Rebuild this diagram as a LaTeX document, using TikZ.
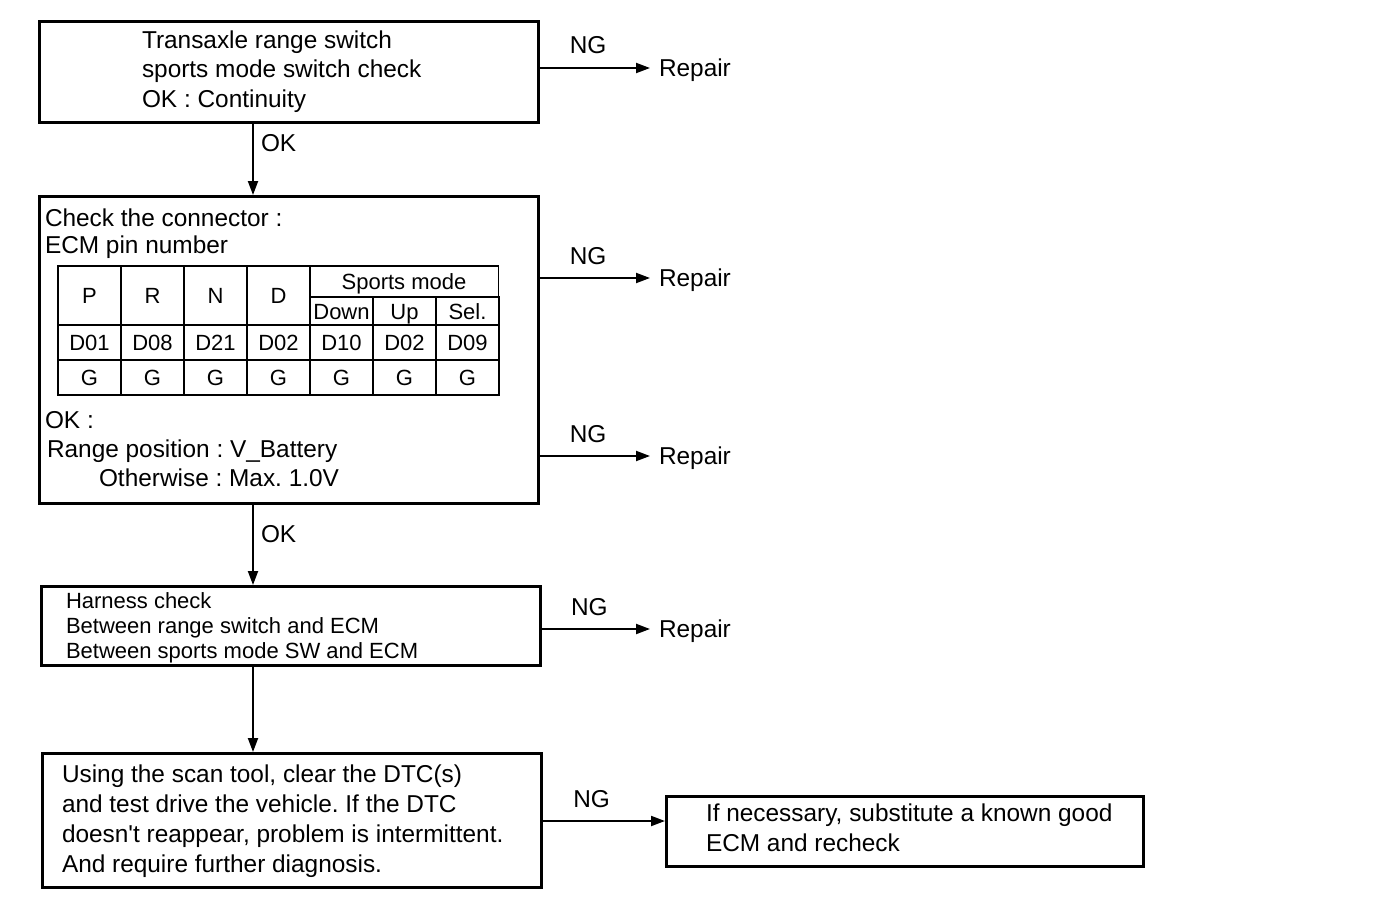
\documentclass[tikz,border=0pt]{standalone}
\usepackage{fontspec}
\setmainfont{Liberation Sans}
\newfontfamily\diagfont{Liberation Sans}
\usetikzlibrary{positioning,arrows.meta}

\tikzset{
  box/.style={draw, line width=1.3pt, inner sep=0pt, anchor=north west},
  cell/.style={draw, line width=0.9pt, inner sep=0pt, text height=8pt, text depth=0pt,
    font=\diagfont\fontsize{11pt}{13pt}\selectfont},
  textline/.style={anchor=base west, inner sep=0pt, font=\diagfont\fontsize{12.2pt}{14pt}\selectfont},
  smallline/.style={textline, font=\diagfont\fontsize{11pt}{13pt}\selectfont},
  ok/.style={anchor=west, inner sep=0pt, xshift=3.5pt, text depth=0pt, font=\diagfont\fontsize{12.2pt}{14pt}\selectfont},
  ng/.style={above=6.5pt, inner sep=0pt, text depth=0pt, font=\diagfont\fontsize{12.2pt}{14pt}\selectfont},
}

\begin{document}
\frenchspacing
\begin{tikzpicture}[x=0.5pt, y=-0.5pt, >={Triangle[length=7pt,width=5pt]}, line width=1pt]

\path[use as bounding box] (0,0) rectangle (1376,910);

% boxes
\node[box, minimum width=249.5pt, minimum height=50.5pt] (check-1) at (38,20) {};
\node[box, minimum width=249.5pt, minimum height=153.5pt] (check-2) at (38,195) {};
\node[box, minimum width=249.5pt, minimum height=39.5pt] (check-3) at (40,585) {};
\node[box, minimum width=249.5pt, minimum height=67pt] (check-4) at (41,752) {};
\node[box, minimum width=238.5pt, minimum height=35pt] (fix) at (665,795) {};

% box texts
\foreach \t [count=\y from 0] in {Transaxle range switch, sports mode switch check, OK : Continuity}
  \node[textline] (switch-\y) at (141,48+29.5*\y) {\t};

\node[textline] (connector-1) at (44,226) {Check the connector :};
\node[textline] (connector-2) at (44,253) {ECM pin number};
\node[textline] (range-0) at (44,428) {OK :};
\node[textline] (range-1) at (46,457) {Range position : V\_Battery};
\node[textline] (range-2) at (98,486) {Otherwise : Max. 1.0V};

\foreach \t [count=\y from 0] in {Harness check, Between range switch and ECM, Between sports mode SW and ECM}
  \node[smallline] (harness-\y) at (65,608+25*\y) {\t};

\foreach \t [count=\y from 0] in {{Using the scan tool, clear the DTC(s)}, and test drive the vehicle. If the DTC,
    {doesn't reappear, problem is intermittent.}, And require further diagnosis.}
  \node[textline] (scan-\y) at (61,782+30*\y) {\t};

\foreach \t [count=\y from 0] in {{If necessary, substitute a known good}, ECM and recheck}
  \node[textline] (fix-\y) at (705,821+30*\y) {\t};

% ECM pin table
\foreach \n [count=\i from 0] in {P,R,N,D}
  \node[cell, minimum width=31.5pt, minimum height=29.5pt] (head-\i) at (89.5+63*\i,295.5) {\n};
\node[cell, minimum width=94.5pt, minimum height=15.5pt] (sports) at (404,281.5) {Sports mode};
\foreach \n [count=\i from 4] in {Down,Up,Sel.}
  \node[cell, minimum width=31.5pt, minimum height=14pt] (head-\i) at (89.5+63*\i,311) {\n};
\foreach \p [count=\i from 0] in {D01,D08,D21,D02,D10,D02,D09}
  \node[cell, minimum width=31.5pt, minimum height=17.5pt] (pin-\i) at (89.5+63*\i,342.5) {\p};
\foreach \i in {0,...,6}
  \node[cell, minimum width=31.5pt, minimum height=17.5pt] (gnd-\i) at (89.5+63*\i,377.5) {G};

% OK path
\coordinate (trunk) at (253,0);
\draw[->] (check-1.south -| trunk) -- (check-2.north -| trunk) node[ok, pos=0.27] (ok-1) {OK};
\draw[->] (check-2.south -| trunk) -- (check-3.north -| trunk) node[ok, pos=0.36] (ok-2) {OK};
\draw[->] (check-3.south -| trunk) -- (check-4.north -| trunk);

% NG branches
\foreach \src/\y [count=\i] in {check-1/68, check-2/278, check-2/456, check-3/629} {
  \node[textline, anchor=west, text depth=0pt] (repair-\i) at (658,\y) {Repair};
  \draw[->, shorten >=4pt] (\src.east |- repair-\i.west) -- (repair-\i.west)
    node[ng, pos=0.41] (ng-\i) {NG};
}

\coordinate (fix-in) at (665,821);
\draw[->] (check-4.east |- fix-in) -- (fix-in) node[ng, pos=0.4] (ng-5) {NG};

\end{tikzpicture}
\end{document}
